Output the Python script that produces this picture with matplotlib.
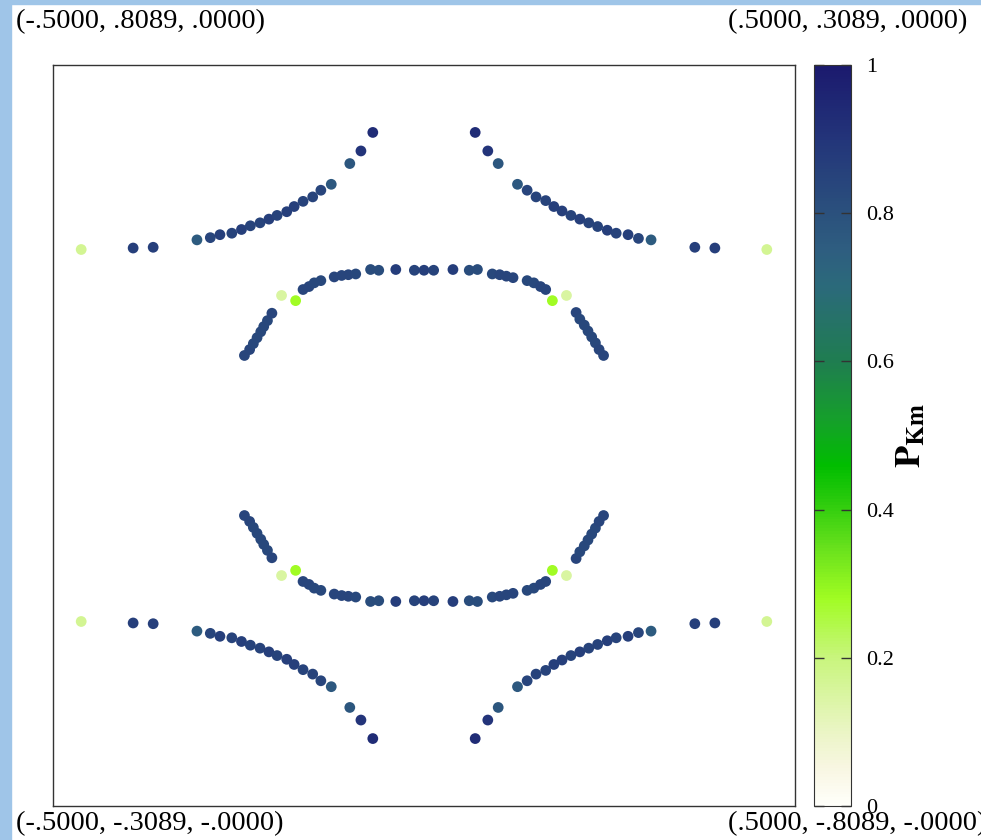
import numpy as np
import matplotlib
matplotlib.use("Agg")
import matplotlib.pyplot as plt
from matplotlib.colors import LinearSegmentedColormap
from matplotlib.patches import Rectangle

plt.rcParams['font.family'] = ['Liberation Serif', 'DejaVu Serif']
plt.rcParams['mathtext.fontset'] = 'stix'

# in-plane coordinates (u, v) of the points, and the P_Km value of each
outer_ul_u = [-0.462, -0.392, -0.365, -0.306, -0.288, -0.275, -0.259, -0.246, -0.234, -0.221, -0.209,
              -0.198, -0.185, -0.175, -0.163, -0.150, -0.139, -0.125, -0.100, -0.085, -0.069]
outer_ul_v = [0.251, 0.253, 0.254, 0.264, 0.267, 0.271, 0.273, 0.278, 0.283, 0.287, 0.292,
              0.297, 0.302, 0.309, 0.316, 0.322, 0.331, 0.339, 0.367, 0.384, 0.409]
outer_ul_p = [0.17, 0.86, 0.86, 0.76, 0.84, 0.86, 0.85, 0.86, 0.85, 0.85, 0.86,
              0.85, 0.86, 0.86, 0.85, 0.85, 0.84, 0.77, 0.78, 0.90, 0.93]

outer_ur_u = [0.069, 0.086, 0.100, 0.126, 0.139, 0.151, 0.164, 0.175, 0.186, 0.198, 0.210,
              0.222, 0.234, 0.247, 0.259, 0.275, 0.289, 0.306, 0.365, 0.392, 0.462]
outer_ur_v = [0.409, 0.384, 0.367, 0.339, 0.331, 0.322, 0.317, 0.309, 0.303, 0.297, 0.292,
              0.287, 0.282, 0.277, 0.273, 0.271, 0.266, 0.264, 0.254, 0.253, 0.251]
outer_ur_p = [0.93, 0.90, 0.78, 0.77, 0.84, 0.85, 0.85, 0.86, 0.86, 0.85, 0.86,
              0.85, 0.85, 0.86, 0.85, 0.86, 0.84, 0.76, 0.86, 0.86, 0.17]

outer_ll_u = [-0.462, -0.392, -0.365, -0.306, -0.288, -0.275, -0.259, -0.246, -0.234, -0.221, -0.209,
              -0.198, -0.185, -0.175, -0.163, -0.150, -0.139, -0.125, -0.100, -0.085, -0.069]
outer_ll_v = [-0.251, -0.253, -0.254, -0.264, -0.267, -0.271, -0.273, -0.278, -0.283, -0.287, -0.292,
              -0.297, -0.302, -0.309, -0.316, -0.322, -0.331, -0.339, -0.367, -0.384, -0.409]
outer_ll_p = [0.17, 0.86, 0.86, 0.76, 0.84, 0.86, 0.85, 0.86, 0.85, 0.85, 0.86,
              0.85, 0.86, 0.86, 0.85, 0.85, 0.84, 0.77, 0.78, 0.90, 0.93]

outer_lr_u = [0.069, 0.086, 0.100, 0.126, 0.139, 0.151, 0.164, 0.175, 0.186, 0.198, 0.210,
              0.222, 0.234, 0.247, 0.259, 0.275, 0.289, 0.306, 0.365, 0.392, 0.462]
outer_lr_v = [-0.409, -0.384, -0.367, -0.339, -0.331, -0.322, -0.317, -0.309, -0.303, -0.297, -0.292,
              -0.287, -0.282, -0.277, -0.273, -0.271, -0.266, -0.264, -0.254, -0.253, -0.251]
outer_lr_p = [0.93, 0.90, 0.78, 0.77, 0.84, 0.85, 0.85, 0.86, 0.86, 0.85, 0.86,
              0.85, 0.85, 0.86, 0.85, 0.86, 0.84, 0.76, 0.86, 0.86, 0.17]

arc_up_u = [-0.242, -0.235, -0.230, -0.225, -0.220, -0.216, -0.211, -0.205, -0.192, -0.173,
            -0.163, -0.155, -0.148, -0.139, -0.121, -0.111, -0.102, -0.092, -0.072, -0.061, -0.038, -0.013,
            0.000,
            0.013, 0.039, 0.061, 0.072, 0.092, 0.102, 0.111, 0.120, 0.139, 0.148, 0.157, 0.164,
            0.173, 0.192, 0.205, 0.210, 0.216, 0.221, 0.226, 0.231, 0.236, 0.242]
arc_up_v = [0.108, 0.116, 0.124, 0.132, 0.140, 0.147, 0.155, 0.165, 0.189, 0.182,
            0.197, 0.201, 0.206, 0.209, 0.214, 0.216, 0.217, 0.218, 0.224, 0.223, 0.224, 0.223,
            0.223,
            0.223, 0.224, 0.223, 0.224, 0.218, 0.217, 0.215, 0.213, 0.209, 0.206, 0.201, 0.197,
            0.182, 0.189, 0.166, 0.157, 0.149, 0.141, 0.133, 0.125, 0.116, 0.108]
arc_up_p = [0.84, 0.84, 0.83, 0.83, 0.83, 0.83, 0.83, 0.84, 0.15, 0.28,
            0.84, 0.84, 0.83, 0.83, 0.84, 0.84, 0.84, 0.83, 0.82, 0.82, 0.87, 0.85,
            0.86,
            0.85, 0.87, 0.82, 0.82, 0.83, 0.84, 0.84, 0.84, 0.83, 0.83, 0.84, 0.84,
            0.28, 0.15, 0.84, 0.83, 0.83, 0.83, 0.83, 0.83, 0.84, 0.84]

arc_dn_u = [-0.242, -0.235, -0.230, -0.225, -0.220, -0.216, -0.211, -0.205, -0.192, -0.173,
            -0.163, -0.155, -0.148, -0.139, -0.121, -0.111, -0.102, -0.092, -0.072, -0.061, -0.038, -0.013,
            0.000,
            0.013, 0.039, 0.061, 0.072, 0.092, 0.102, 0.111, 0.120, 0.139, 0.148, 0.157, 0.164,
            0.173, 0.192, 0.205, 0.210, 0.216, 0.221, 0.226, 0.231, 0.236, 0.242]
arc_dn_v = [-0.108, -0.116, -0.124, -0.132, -0.140, -0.147, -0.155, -0.165, -0.189, -0.182,
            -0.197, -0.201, -0.206, -0.209, -0.214, -0.216, -0.217, -0.218, -0.224, -0.223, -0.224, -0.223,
            -0.223,
            -0.223, -0.224, -0.223, -0.224, -0.218, -0.217, -0.215, -0.213, -0.209, -0.206, -0.201, -0.197,
            -0.182, -0.189, -0.166, -0.157, -0.149, -0.141, -0.133, -0.125, -0.116, -0.108]
arc_dn_p = [0.84, 0.84, 0.83, 0.83, 0.83, 0.83, 0.83, 0.84, 0.15, 0.28,
            0.84, 0.84, 0.83, 0.83, 0.84, 0.84, 0.84, 0.83, 0.82, 0.82, 0.87, 0.85,
            0.86,
            0.85, 0.87, 0.82, 0.82, 0.83, 0.84, 0.84, 0.84, 0.83, 0.83, 0.84, 0.84,
            0.28, 0.15, 0.84, 0.83, 0.83, 0.83, 0.83, 0.83, 0.84, 0.84]

corner_labels = ["(-.5000, .8089, .0000)", "(.5000, .3089, .0000)",
                 "(-.5000, -.3089, -.0000)", "(.5000, -.8089, -.0000)"]
cbar_ticks = [0, 0.2, 0.4, 0.6, 0.8, 1]
cbar_ticklabels = ["0", "0.2", "0.4", "0.6", "0.8", "1"]

u = np.concatenate([outer_ul_u, outer_ur_u, outer_ll_u, outer_lr_u, arc_up_u, arc_dn_u])
v = np.concatenate([outer_ul_v, outer_ur_v, outer_ll_v, outer_lr_v, arc_up_v, arc_dn_v])
p = np.concatenate([outer_ul_p, outer_ur_p, outer_ll_p, outer_lr_p, arc_up_p, arc_dn_p])

cmap = LinearSegmentedColormap.from_list("pkm", [
    (0.0, "#fffffa"), (0.05, "#f8f6e2"), (0.1, "#eaf5c4"), (0.2, "#c8f57c"),
    (0.28, "#a0fc22"), (0.35, "#66e01c"), (0.42, "#22c80a"), (0.46, "#00bd00"),
    (0.52, "#15a02a"), (0.6, "#1f7d50"), (0.7, "#2b6a7a"), (0.75, "#2e5e80"),
    (0.8, "#2b517d"), (0.9, "#23357a"), (1.0, "#1b1a6e")])

fig = plt.figure(figsize=(9.81, 8.40), dpi=100)
# light blue window edge from the screenshot
fig.patches.append(Rectangle((0, 0), 11 / 981, 1, transform=fig.transFigure, color="#9fc5e8", zorder=0))
fig.patches.append(Rectangle((0, 1 - 4 / 840), 1, 4 / 840, transform=fig.transFigure, color="#9fc5e8", zorder=0))

ax = fig.add_axes([53 / 981, 34 / 840, 742 / 981, 741 / 840])
sc = ax.scatter(u, v, c=p, cmap=cmap, vmin=0, vmax=1, s=60, linewidths=0)
ax.set_xlim(-0.5, 0.5)
ax.set_ylim(-0.5, 0.5)
ax.set_xticks([])
ax.set_yticks([])
for s in ax.spines.values():
    s.set_color("#333333")
    s.set_linewidth(1)

cax = fig.add_axes([814 / 981, 34 / 840, 37 / 981, 741 / 840])
cb = fig.colorbar(sc, cax=cax, ticks=cbar_ticks)
cb.set_ticklabels(cbar_ticklabels)
cb.outline.set_edgecolor("#333333")
cax.tick_params(direction="in", length=7, width=1, left=True, right=True,
                labelsize=16, pad=11, colors="#333333", labelcolor="black")
cax.text(2.65, 0.5, r"$\mathbf{P}_{\mathbf{Km}}$", transform=cax.transAxes, rotation=90,
         ha="center", va="center", fontsize=26)

fig.text(16 / 981, 1 - 22 / 840, corner_labels[0], ha="left", va="center", fontsize=20.5)
fig.text(967 / 981, 1 - 22 / 840, corner_labels[1], ha="right", va="center", fontsize=20.5)
fig.text(16 / 981, 1 - 824 / 840, corner_labels[2], ha="left", va="center", fontsize=20.5)
fig.text(728 / 981, 1 - 824 / 840, corner_labels[3], ha="left", va="center", fontsize=20.5)

fig.savefig("out.png", dpi=100)
